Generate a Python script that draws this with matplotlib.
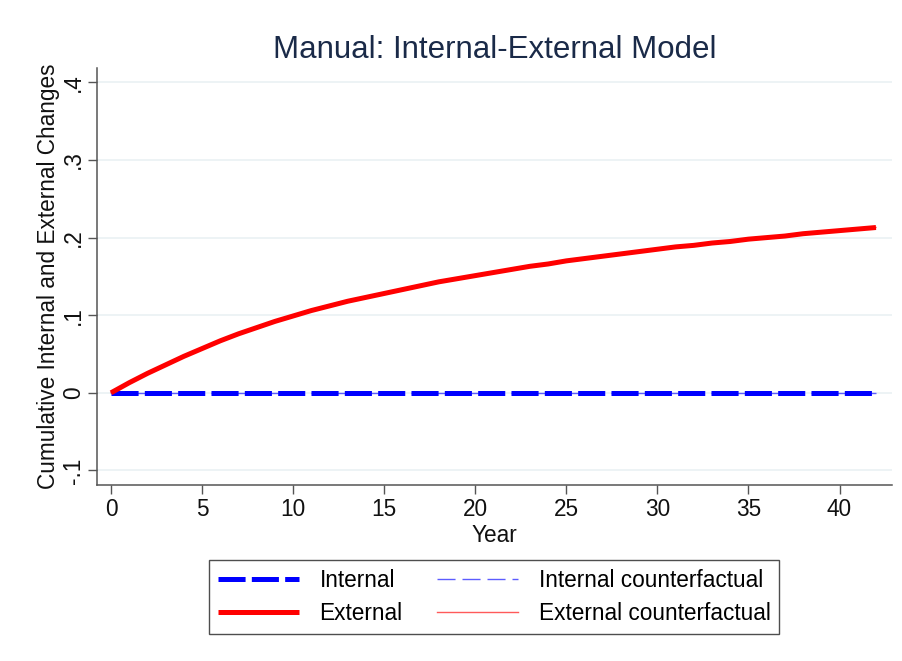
import matplotlib.pyplot as plt

plt.rcParams['font.family'] = ['Liberation Sans', 'DejaVu Sans']
plt.rcParams['lines.scale_dashes'] = False

# cumulative changes by year
years = list(range(0, 43))
external = [0.000, 0.013, 0.025, 0.036, 0.047, 0.057, 0.067, 0.076, 0.084, 0.092,
            0.099, 0.106, 0.112, 0.118, 0.123, 0.128, 0.133, 0.138, 0.143, 0.147,
            0.151, 0.155, 0.159, 0.163, 0.166, 0.170, 0.173, 0.176, 0.179, 0.182,
            0.185, 0.188, 0.190, 0.193, 0.195, 0.198, 0.200, 0.202, 0.205, 0.207,
            0.209, 0.211, 0.213]
internal = [0.0] * len(years)
internal_cf = [0.0] * len(years)
external_cf = list(external)

xticks = [0, 5, 10, 15, 20, 25, 30, 35, 40]
yticks = [-0.1, 0, 0.1, 0.2, 0.3, 0.4]
ytick_labels = ['-.1', '0', '.1', '.2', '.3', '.4']

FS = 16.3

fig = plt.figure(figsize=(9.02, 6.61), dpi=100)
ax = fig.add_axes([0.1075, 0.2666, 0.881, 0.6305])

ax.set_xlim(-0.77, 42.86)
ax.set_ylim(-0.1185, 0.4185)
for y in yticks:
    ax.axhline(y, color='#eaf1f3', lw=1.2, zorder=0)

l1, = ax.plot(years, internal, color='#0000ff', lw=3.6, dashes=(19.5, 4.5),
              dash_capstyle='butt', zorder=3, label='Internal')
l2, = ax.plot(years, external, color='#ff0000', lw=3.6, zorder=4,
              solid_capstyle='butt', label='External')
l3, = ax.plot(years, internal_cf, color='#5c5cff', lw=1.0, dashes=(13, 5),
              zorder=2, label='Internal counterfactual')
l4, = ax.plot(years, external_cf, color='#ff5a5a', lw=1.0, zorder=2,
              label='External counterfactual')

ax.set_xticks(xticks)
ax.set_xticklabels([str(x) for x in xticks])
ax.set_yticks(yticks)
ax.set_yticklabels(ytick_labels, rotation=90, va='center')
ax.tick_params(length=6.5, width=1, color='#555555', labelsize=FS,
               labelcolor='#111111')
ax.tick_params(axis='x', pad=3)
ax.tick_params(axis='y', pad=2)

for side in ['top', 'right']:
    ax.spines[side].set_visible(False)
for side in ['left', 'bottom']:
    ax.spines[side].set_color('#555555')
    ax.spines[side].set_linewidth(1.1)

ax.set_xlabel('Year', fontsize=FS, color='#111111')
ax.xaxis.set_label_coords(0.5, -0.093)
ax.set_ylabel('Cumulative Internal and External Changes', fontsize=FS,
              color='#111111')
ax.yaxis.set_label_coords(-0.047, 0.5)
ax.set_title('Manual: Internal-External Model', fontsize=22.5,
             color='#1a2a48', pad=7)

leg = fig.legend(handles=[l1, l2, l3, l4], ncol=2, loc='center',
                 bbox_to_anchor=(0.5477, 0.0968), fontsize=FS,
                 frameon=True, fancybox=False, edgecolor='#222222',
                 handlelength=3.6, handletextpad=0.9, columnspacing=1.5,
                 borderpad=0.4, labelspacing=0.42, borderaxespad=0)
leg.get_frame().set_linewidth(1.0)

fig.savefig('out.png', dpi=100, facecolor='white')
